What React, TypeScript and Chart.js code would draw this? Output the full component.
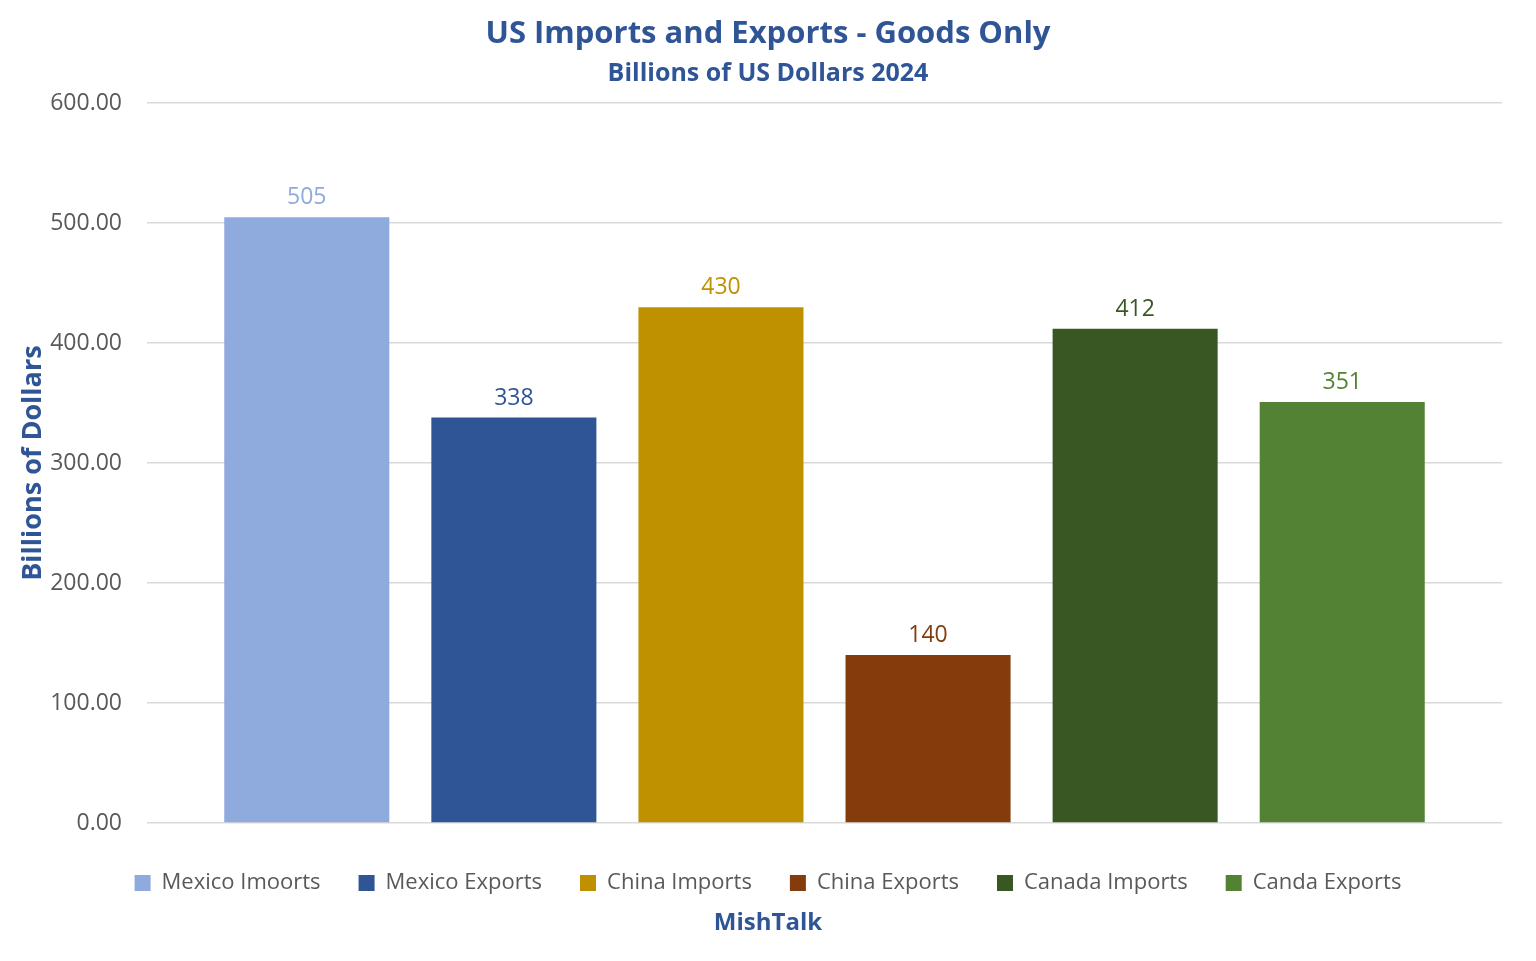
import React, { useEffect, useRef } from 'react';
import { Chart, registerables } from 'chart.js';

Chart.register(...registerables);

const SERIES = ['Mexico Imoorts', 'Mexico Exports', 'China Imports', 'China Exports', 'Canada Imports', 'Canda Exports'];
const VALUES = [505, 338, 430, 140, 412, 351];
const COLORS = ['#8FAADC', '#2F5597', '#BF9000', '#843C0C', '#385723', '#548235'];
const Y_MAX = 600;
const Y_STEP = 100;

const FONT = '"Open Sans", "Noto Sans", sans-serif';
const BLUE = '#2F5597';
const GREY = '#595959';

// value labels above each bar, coloured like the bar
const barLabels = {
  id: 'barLabels',
  afterDatasetsDraw(chart: Chart) {
    const { ctx } = chart;
    ctx.save();
    ctx.font = `23px ${FONT}`;
    ctx.textAlign = 'center';
    ctx.textBaseline = 'bottom';
    chart.data.datasets.forEach((ds, i) => {
      const meta = chart.getDatasetMeta(i);
      meta.data.forEach((el: any, j: number) => {
        ctx.fillStyle = ds.backgroundColor as string;
        ctx.fillText(String(ds.data[j]), el.x, el.y - 8);
      });
    });
    ctx.restore();
  },
};

// footer text under the legend
const footer = {
  id: 'footer',
  afterDraw(chart: Chart) {
    const { ctx, width, height } = chart;
    ctx.save();
    ctx.font = `bold 24px ${FONT}`;
    ctx.fillStyle = BLUE;
    ctx.textAlign = 'center';
    ctx.textBaseline = 'middle';
    ctx.fillText('MishTalk', width / 2, height - 38);
    ctx.restore();
  },
};

export default function App() {
  const ref = useRef<HTMLCanvasElement>(null);

  useEffect(() => {
    document.body.style.margin = '0';
    if (!ref.current) return;
    const chart = new Chart(ref.current, {
      type: 'bar',
      data: {
        labels: [''],
        datasets: SERIES.map((s, i) => ({
          label: s,
          data: [VALUES[i]],
          backgroundColor: COLORS[i],
          borderWidth: 0,
          categoryPercentage: 0.917,
          barPercentage: 0.797,
        })),
      },
      options: {
        responsive: true,
        maintainAspectRatio: false,
        animation: false,
        layout: { padding: { left: 34, right: 34, top: 0, bottom: 57 } },
        plugins: {
          title: {
            display: true,
            text: 'US Imports and Exports - Goods Only',
            color: BLUE,
            font: { family: FONT, size: 31, weight: 'bold' },
            padding: { top: 16, bottom: 6 },
          },
          subtitle: {
            display: true,
            text: 'Billions of US Dollars 2024',
            color: BLUE,
            font: { family: FONT, size: 25, weight: 'bold' },
            padding: { top: 0, bottom: 14 },
          },
          legend: {
            position: 'bottom',
            labels: {
              color: GREY,
              font: { family: FONT, size: 22 },
              boxWidth: 16,
              boxHeight: 16,
              padding: 38,
            },
          },
          tooltip: { enabled: false },
        },
        scales: {
          x: {
            afterFit: (scale: any) => { scale.height = 11; },
            grid: { display: false },
            border: { display: false },
            ticks: { display: false },
          },
          y: {
            min: 0,
            max: Y_MAX,
            afterFit: (scale: any) => { scale.width = 113; },
            ticks: {
              stepSize: Y_STEP,
              color: GREY,
              font: { family: FONT, size: 23 },
              padding: 25,
              callback: v => Number(v).toFixed(2),
            },
            grid: { color: '#D9D9D9', lineWidth: 1.5, drawTicks: false },
            border: { display: false },
            title: {
              display: true,
              text: 'Billions of Dollars',
              color: BLUE,
              font: { family: FONT, size: 27, weight: 'bold' },
              padding: { top: -17, bottom: 0 },
            },
          },
        },
      },
      plugins: [barLabels, footer],
    });
    return () => chart.destroy();
  }, []);

  return (
    <div style={{ width: 1536, height: 961, background: '#fff' }}>
      <canvas ref={ref} />
    </div>
  );
}
